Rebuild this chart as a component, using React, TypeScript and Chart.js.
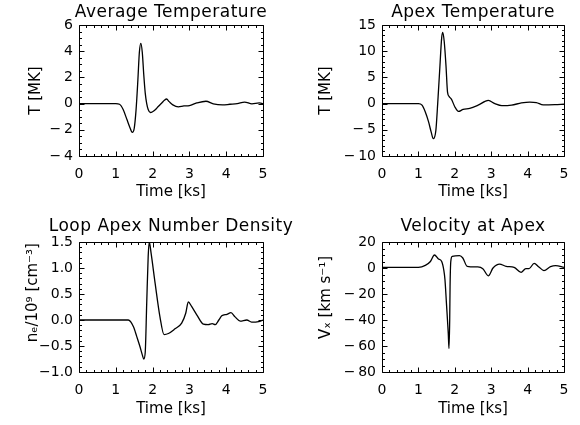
import React, { useEffect, useRef } from "react";
import { Chart, registerables } from "chart.js";

Chart.register(...registerables);

const FONT = "'DejaVu Sans', 'Liberation Sans', sans-serif";

// ---------- Data ----------
const xTicks = [0, 1, 2, 3, 4, 5];

// Average Temperature
const avgTime = [0, 1.0, 1.1, 1.2, 1.3, 1.38, 1.45, 1.5, 1.55, 1.6, 1.64, 1.68, 1.72, 1.76, 1.8, 1.84, 1.88, 1.94, 2.0, 2.08, 2.16, 2.25, 2.32, 2.38, 2.45, 2.55, 2.7, 2.85, 3.0, 3.2, 3.45, 3.65, 3.9, 4.1, 4.3, 4.5, 4.7, 4.9, 5.0];
const avgTemp = [0, 0, -0.05, -0.45, -1.2, -1.8, -2.2, -1.9, -0.5, 1.8, 3.9, 4.6, 3.9, 2.2, 0.8, 0.0, -0.45, -0.68, -0.62, -0.45, -0.2, 0.05, 0.25, 0.35, 0.15, -0.1, -0.25, -0.18, -0.15, 0.05, 0.18, -0.02, -0.1, -0.05, 0.0, 0.12, -0.02, 0.05, 0.0];
const avgTicks = [-4, -2, 0, 2, 4, 6];

// Apex Temperature
const apexTime = [0, 1.0, 1.1, 1.19, 1.28, 1.35, 1.41, 1.48, 1.53, 1.59, 1.64, 1.67, 1.71, 1.76, 1.8, 1.85, 1.91, 2.0, 2.1, 2.23, 2.41, 2.64, 2.92, 3.1, 3.29, 3.56, 3.83, 4.06, 4.24, 4.43, 4.75, 5.0];
const apexTemp = [0, 0, -0.3, -1.6, -3.5, -5.4, -6.7, -5.1, 0, 7, 12.6, 13.6, 11.8, 7, 2.2, 1.3, 0.8, -0.6, -1.5, -1.1, -0.9, -0.3, 0.6, 0, -0.4, -0.3, 0.13, 0.3, 0.2, -0.25, -0.2, -0.1];
const apexTicks = [-10, -5, 0, 5, 10, 15];

// Loop Apex Number Density
const densTime = [0, 1.34, 1.48, 1.57, 1.66, 1.72, 1.76, 1.8, 1.84, 1.88, 1.91, 1.96, 2.07, 2.2, 2.31, 2.43, 2.61, 2.79, 2.9, 2.97, 3.06, 3.2, 3.38, 3.51, 3.62, 3.7, 3.8, 3.88, 4.02, 4.13, 4.24, 4.38, 4.56, 4.69, 4.88, 5.0];
const densVal = [0, 0, -0.13, -0.32, -0.52, -0.67, -0.75, -0.62, 0.32, 1.22, 1.5, 1.28, 0.7, 0.06, -0.28, -0.26, -0.17, -0.06, 0.13, 0.35, 0.26, 0.1, -0.08, -0.09, -0.07, -0.09, 0, 0.08, 0.11, 0.14, 0.06, -0.02, 0, -0.04, -0.03, 0];
const densTicks = [-1.0, -0.5, 0.0, 0.5, 1.0, 1.5];

// Velocity at Apex
const velTime = [0, 1.0, 1.19, 1.33, 1.44, 1.55, 1.64, 1.7, 1.73, 1.77, 1.82, 1.84, 1.86, 1.87, 1.89, 1.93, 2.13, 2.22, 2.34, 2.63, 2.77, 2.92, 3.05, 3.23, 3.41, 3.63, 3.82, 3.95, 4.04, 4.18, 4.31, 4.45, 4.63, 4.77, 5.0];
const velVal = [0.5, 0.5, 2, 5, 10, 7, 5, -2, -9, -27, -50, -62, -40, -14, 5, 9, 9.5, 7.7, 1.3, 0.8, -0.5, -6, 0, 3, 1.3, 0.5, -3.3, -0.5, -0.5, 3.6, 0.8, -2, 1, 1.8, 0.5];
const velTicks = [-80, -60, -40, -20, 0, 20];

// ---------- Plugins ----------
const idlFrame = {
  id: "idlFrame",
  afterDatasetsDraw(chart: any, _args: any, opts: any) {
    const { ctx, chartArea: a } = chart;
    const xs = chart.scales.x;
    const ys = chart.scales.y;
    const L = Math.round(a.left) + 0.5;
    const R = Math.round(a.right) + 0.5;
    const T = Math.round(a.top) + 0.5;
    const B = Math.round(a.bottom) + 0.5;
    const isMajor = (s: any, v: number) => s.ticks.some((t: any) => Math.abs(t.value - v) < 1e-6);
    ctx.save();
    ctx.strokeStyle = "#000";
    ctx.lineWidth = 1;
    ctx.beginPath();
    ctx.rect(L, T, R - L, B - T);
    const nx = Math.round((xs.max - xs.min) / opts.xMinor);
    for (let i = 0; i <= nx; i++) {
      const v = xs.min + i * opts.xMinor;
      const p = Math.round(xs.getPixelForValue(v)) + 0.5;
      const len = isMajor(xs, v) ? 5 : 2.5;
      ctx.moveTo(p, B);
      ctx.lineTo(p, B - len);
      ctx.moveTo(p, T);
      ctx.lineTo(p, T + len);
    }
    const ny = Math.round((ys.max - ys.min) / opts.yMinor);
    for (let i = 0; i <= ny; i++) {
      const v = ys.min + i * opts.yMinor;
      const p = Math.round(ys.getPixelForValue(v)) + 0.5;
      const len = isMajor(ys, v) ? 5 : 2.5;
      ctx.moveTo(L, p);
      ctx.lineTo(L + len, p);
      ctx.moveTo(R, p);
      ctx.lineTo(R - len, p);
    }
    ctx.stroke();
    ctx.restore();
  },
};

const panelTitle = {
  id: "panelTitle",
  afterDraw(chart: any, _args: any, opts: any) {
    const { ctx, chartArea: a } = chart;
    ctx.save();
    ctx.font = `${opts.size}px ${FONT}`;
    ctx.fillStyle = "#000";
    ctx.textAlign = "center";
    ctx.textBaseline = "alphabetic";
    try {
      (ctx as any).letterSpacing = "0.5px";
    } catch (e) {
      /* ignore */
    }
    ctx.fillText(opts.text, (a.left + a.right) / 2, a.top - opts.gap);
    ctx.restore();
  },
};

type Spec = {
  title: string;
  titleGap: number;
  yTitle: string;
  time: number[];
  values: number[];
  yTicks: number[];
  yMinor: number;
  decimals: number;
  pad: { left: number; right: number; top: number; bottom: number };
  yTitlePad: number;
  xTitlePad: number;
};

const fmt = (v: number, d: number) => {
  const s = v.toFixed(d);
  if (!s.startsWith("-")) return s;
  return (d === 0 ? "\u2212\u2009" : "\u2212") + s.slice(1);
};

function Panel({ spec }: { spec: Spec }) {
  const ref = useRef<HTMLCanvasElement | null>(null);
  useEffect(() => {
    if (!ref.current) return;
    const yMin = spec.yTicks[0];
    const yMax = spec.yTicks[spec.yTicks.length - 1];
    const chart = new Chart(ref.current, {
      type: "line",
      data: {
        datasets: [
          {
            data: spec.time.map((t, i) => ({ x: t, y: spec.values[i] })),
            borderColor: "#000",
            borderWidth: 1.3,
            pointRadius: 0,
            fill: false,
            cubicInterpolationMode: "monotone",
          },
        ],
      },
      options: {
        animation: false,
        responsive: false,
        maintainAspectRatio: false,
        events: [],
        layout: { padding: spec.pad },
        plugins: {
          legend: { display: false },
          tooltip: { enabled: false },
          title: { display: false },
          idlFrame: { xMinor: 0.2, yMinor: spec.yMinor },
          panelTitle: { text: spec.title, size: 17, gap: spec.titleGap },
        } as any,
        scales: {
          x: {
            type: "linear",
            min: xTicks[0],
            max: xTicks[xTicks.length - 1],
            grid: { display: false, drawTicks: false },
            border: { display: false },
            afterBuildTicks: (s: any) => {
              s.ticks = xTicks.map((v) => ({ value: v }));
            },
            ticks: {
              color: "#000",
              font: { family: FONT, size: 14 },
              padding: 10,
              maxRotation: 0,
              autoSkip: false,
              callback: (v: any) => String(v),
            },
            title: {
              display: true,
              text: "Time [ks]",
              color: "#000",
              font: { family: FONT, size: 15 },
              padding: { top: 0, bottom: spec.xTitlePad },
            },
            afterFit: (s: any) => {
              s.height = 45;
            },
          },
          y: {
            type: "linear",
            min: yMin,
            max: yMax,
            grid: { display: false, drawTicks: false },
            border: { display: false },
            afterBuildTicks: (s: any) => {
              s.ticks = spec.yTicks.map((v) => ({ value: v }));
            },
            ticks: {
              color: "#000",
              font: { family: FONT, size: 14 },
              padding: 6,
              autoSkip: false,
              callback: (v: any) => fmt(Number(v), spec.decimals),
            },
            title: {
              display: true,
              text: spec.yTitle,
              color: "#000",
              font: { family: FONT, size: 15 },
              padding: { top: spec.yTitlePad, bottom: 0 },
            },
            afterFit: (s: any) => {
              s.width = 79;
            },
          },
        },
      },
      plugins: [idlFrame, panelTitle],
    } as any);
    return () => chart.destroy();
  }, [spec]);
  return (
    <canvas
      ref={ref}
      width={580}
      height={425}
      style={{ position: "absolute", left: 0, top: 0, width: 580, height: 425 }}
    />
  );
}

const specs: Spec[] = [
  {
    title: "Average Temperature",
    titleGap: 8,
    yTitle: "T [MK]",
    time: avgTime,
    values: avgTemp,
    yTicks: avgTicks,
    yMinor: 0.5,
    decimals: 0,
    pad: { left: 0, right: 317, top: 25, bottom: 224 },
    yTitlePad: 26.7,
    xTitlePad: 0,
  },
  {
    title: "Apex Temperature",
    titleGap: 8,
    yTitle: "T [MK]",
    time: apexTime,
    values: apexTemp,
    yTicks: apexTicks,
    yMinor: 1,
    decimals: 0,
    pad: { left: 303, right: 16, top: 25, bottom: 224 },
    yTitlePad: 13.7,
    xTitlePad: 0,
  },
  {
    title: "Loop Apex Number Density",
    titleGap: 11,
    yTitle: "      n\u2091/10\u2079 [cm\u207B\u00B3]",
    time: densTime,
    values: densVal,
    yTicks: densTicks,
    yMinor: 0.1,
    decimals: 1,
    pad: { left: 0, right: 317, top: 242, bottom: 8 },
    yTitlePad: 24.5,
    xTitlePad: -1.5,
  },
  {
    title: "Velocity at Apex",
    titleGap: 11,
    yTitle: "    V\u2093 [km s\u207B\u00B9]",
    time: velTime,
    values: velVal,
    yTicks: velTicks,
    yMinor: 5,
    decimals: 0,
    pad: { left: 303, right: 16, top: 242, bottom: 8 },
    yTitlePad: 14,
    xTitlePad: -1.5,
  },
];

export default function App() {
  useEffect(() => {
    document.body.style.margin = "0";
  }, []);
  return (
    <div style={{ position: "fixed", left: 0, top: 0, width: 580, height: 425, background: "#fff" }}>
      {specs.map((s, i) => (
        <Panel key={i} spec={s} />
      ))}
    </div>
  );
}
